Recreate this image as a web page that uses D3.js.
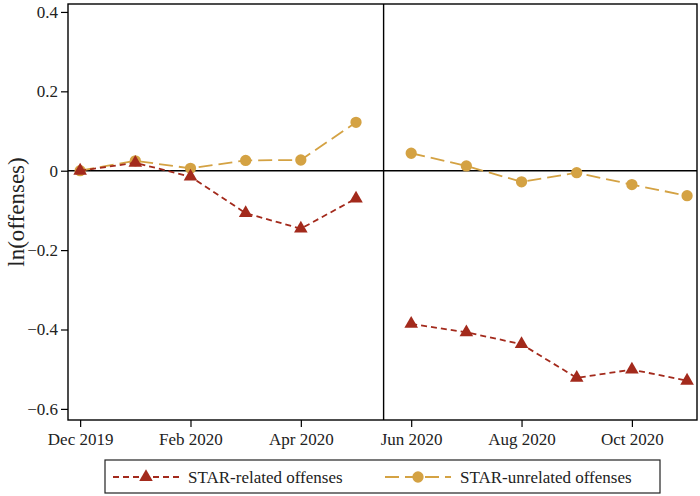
<!DOCTYPE html>
<html><head><meta charset="utf-8">
<script src="https://cdn.jsdelivr.net/npm/d3@7"></script>
<style>body{margin:0;background:#fff}svg{display:block}text{font-family:"Liberation Serif","DejaVu Serif",serif;fill:#222}</style>
</head><body><svg id="c" width="700" height="496"></svg>
<script>
const months = ["Dec 2019","Jan 2020","Feb 2020","Mar 2020","Apr 2020","May 2020","Jun 2020","Jul 2020","Aug 2020","Sep 2020","Oct 2020","Nov 2020"];
const related = [0, 0.02, -0.015, -0.107, -0.146, -0.07, -0.386, -0.407, -0.437, -0.522, -0.501, -0.529];
const unrelated = [0, 0.025, 0.006, 0.026, 0.027, 0.122, 0.044, 0.012, -0.028, -0.005, -0.035, -0.063];
const xTickLabels = ["Dec 2019","Feb 2020","Apr 2020","Jun 2020","Aug 2020","Oct 2020"];
const yTicks = [0.4, 0.2, 0, -0.2, -0.4, -0.6];
const breakIndex = 5.5;

const svg = d3.select("#c");
const m = {l:68, r:697, t:4, b:420};
const x = d3.scaleLinear().domain([-0.22, 11.18]).range([m.l, m.r]);
const y = d3.scaleLinear().domain([-0.628, 0.42]).range([m.b, m.t]);
const red = "#A32A1C", gold = "#D4A243";
const serif = "Liberation Serif, DejaVu Serif, serif";

// frame
svg.append("rect").attr("x", m.l).attr("y", m.t).attr("width", m.r-m.l).attr("height", m.b-m.t)
  .attr("fill","none").attr("stroke","#000").attr("stroke-width",1.4);

// axes
const fmt = d => d === 0 ? "0" : (d < 0 ? "\u2212" + Math.abs(d).toFixed(1) : d.toFixed(1));
const ya = svg.append("g").attr("transform",`translate(${m.l},0)`)
  .call(d3.axisLeft(y).tickValues(yTicks).tickFormat(fmt).tickSize(7).tickPadding(3));
const xa = svg.append("g").attr("transform",`translate(0,${m.b})`)
  .call(d3.axisBottom(x).tickValues(xTickLabels.map(l => months.indexOf(l))).tickFormat(i => months[i]).tickSize(7).tickPadding(6));
[ya, xa].forEach(g => { g.attr("font-family", serif).attr("font-size", 17);
  g.select(".domain").remove(); g.selectAll("line").attr("stroke","#000").attr("stroke-width",1.2);
  g.selectAll("text").attr("fill","#222"); });

svg.append("text").attr("transform",`translate(24,${(m.t+m.b)/2}) rotate(-90)`).attr("text-anchor","middle")
  .attr("font-family", serif).attr("font-size",23).text("ln(offenses)");

// reference lines
svg.append("line").attr("x1",m.l).attr("x2",m.r).attr("y1",y(0)).attr("y2",y(0)).attr("stroke","#000").attr("stroke-width",1.4);
svg.append("line").attr("x1",x(breakIndex)).attr("x2",x(breakIndex)).attr("y1",m.t).attr("y2",m.b).attr("stroke","#000").attr("stroke-width",1.4);

const line = d3.line().x(d => x(d.i)).y(d => y(d.v));
function series(vals, color, dash, marker) {
  const pts = vals.map((v,i) => ({i, v}));
  [pts.slice(0,6), pts.slice(6)].forEach(seg => {
    svg.append("path").attr("d", line(seg)).attr("fill","none").attr("stroke",color).attr("stroke-width",1.8).attr("stroke-dasharray",dash);
  });
  svg.append("g").selectAll("path").data(pts).join("path")
    .attr("transform", d => `translate(${x(d.i)},${y(d.v)})`)
    .attr("d", d3.symbol().type(marker).size(marker === d3.symbolCircle ? 100 : 80)())
    .attr("fill", color);
}
series(unrelated, gold, "14,6", d3.symbolCircle);
series(related, red, "6,4", d3.symbolTriangle);

// legend
const lg = svg.append("g");
lg.append("rect").attr("x",105).attr("y",460).attr("width",555).attr("height",33).attr("fill","#fff").attr("stroke","#222").attr("stroke-width",1.2);
const items = [{label:"STAR-related offenses", color:red, dash:"6,4", marker:d3.symbolTriangle, x0:113},
               {label:"STAR-unrelated offenses", color:gold, dash:"14,6", marker:d3.symbolCircle, x0:385}];
items.forEach(it => {
  lg.append("line").attr("x1",it.x0).attr("x2",it.x0+66).attr("y1",477).attr("y2",477).attr("stroke",it.color).attr("stroke-width",1.8).attr("stroke-dasharray",it.dash);
  lg.append("path").attr("transform",`translate(${it.x0+33},477)`).attr("d", d3.symbol().type(it.marker).size(it.marker===d3.symbolCircle?100:80)()).attr("fill",it.color);
  lg.append("text").attr("x",it.x0+75).attr("y",483).attr("font-family", serif).attr("font-size",17).text(it.label);
});
</script></body></html>
